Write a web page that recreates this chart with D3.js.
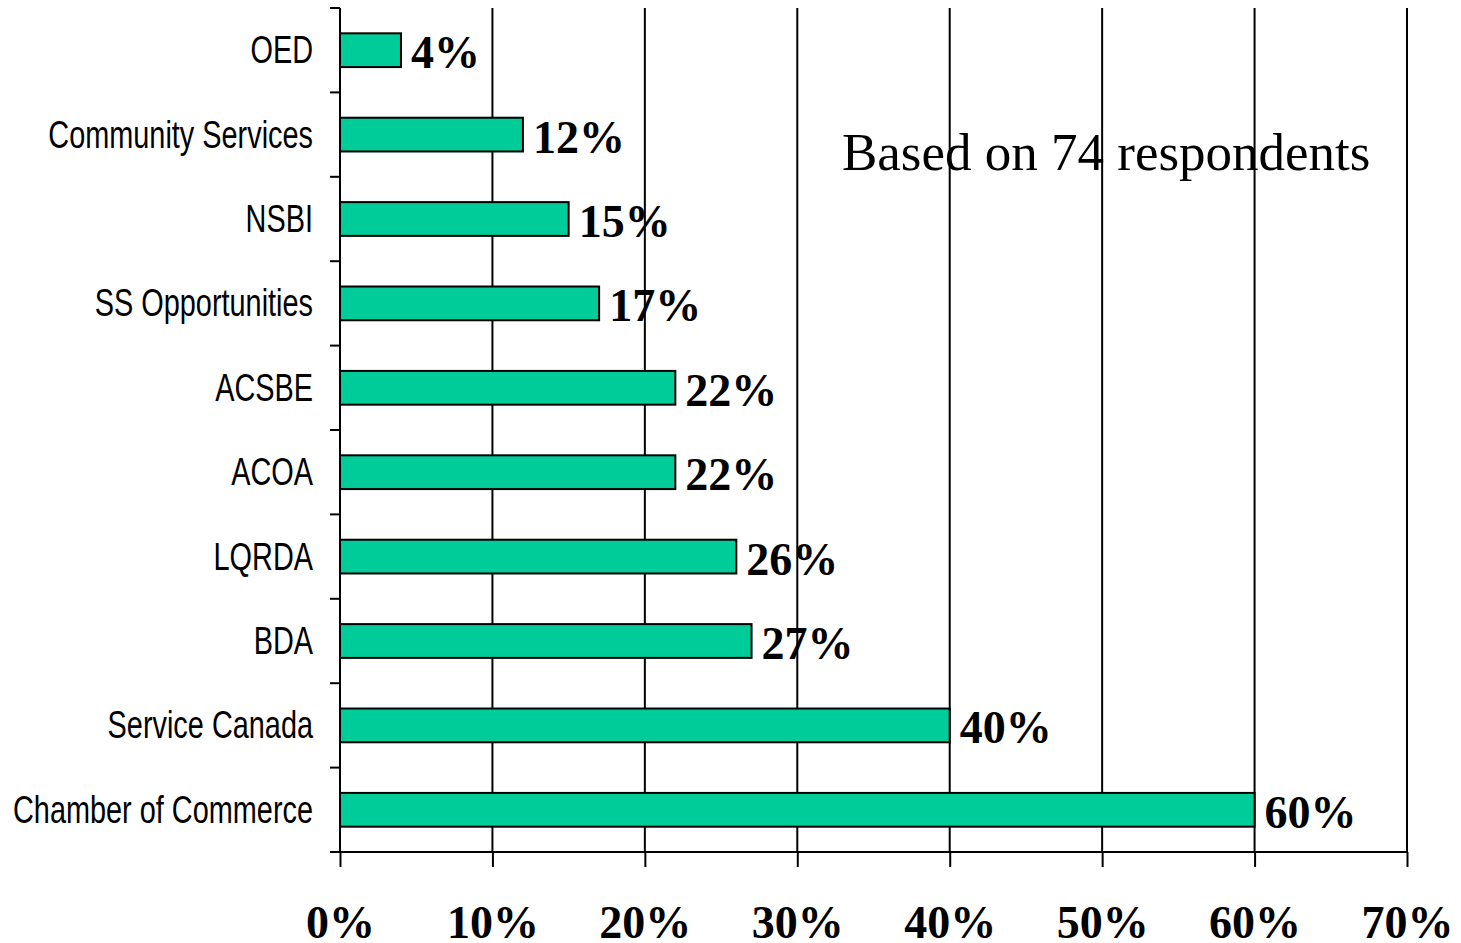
<!DOCTYPE html>
<html>
<head>
<meta charset="utf-8">
<script src="https://cdn.jsdelivr.net/npm/d3@7"></script>
<style>
  body { margin: 0; background: #fff; }
  svg { display: block; }
</style>
</head>
<body>
<div id="chart"></div>
<script>
// data, top to bottom
var categories = ["OED", "Community Services", "NSBI", "SS Opportunities", "ACSBE",
                  "ACOA", "LQRDA", "BDA", "Service Canada", "Chamber of Commerce"];
var values = [4, 12, 15, 17, 22, 22, 26, 27, 40, 60];
var tickValues = [0, 10, 20, 30, 40, 50, 60, 70];
var note = "Based on 74 respondents";

var W = 1461, H = 943;
var margin = {top: 8, right: 54, bottom: 91, left: 340};
var width = W - margin.left - margin.right,
    height = H - margin.top - margin.bottom;

var svg = d3.select("#chart").append("svg")
    .attr("width", W)
    .attr("height", H)
  .append("g")
    .attr("transform", "translate(" + margin.left + "," + margin.top + ")");

var x = d3.scaleLinear().domain([0, 70]).range([0, width]);
var y = d3.scaleBand().domain(categories).range([0, height]).paddingInner(0.6).paddingOuter(0.3);
var step = y.step();

// vertical gridlines
svg.append("g")
  .selectAll("line")
  .data(tickValues.slice(1))
  .enter().append("line")
    .attr("x1", function(d) { return x(d); })
    .attr("x2", function(d) { return x(d); })
    .attr("y1", 0)
    .attr("y2", height)
    .attr("stroke", "#000")
    .attr("stroke-width", 2);

// bars
svg.append("g")
  .selectAll("rect")
  .data(values)
  .enter().append("rect")
    .attr("x", 0)
    .attr("y", function(d, i) { return y(categories[i]); })
    .attr("width", function(d) { return x(d); })
    .attr("height", y.bandwidth())
    .attr("fill", "#00cc99")
    .attr("stroke", "#000")
    .attr("stroke-width", 2);

// value labels
svg.append("g")
  .selectAll("text")
  .data(values)
  .enter().append("text")
    .attr("x", function(d) { return x(d) + 10; })
    .attr("y", function(d, i) { return y(categories[i]) + y.bandwidth() / 2 + 18; })
    .attr("font-family", "'Liberation Serif', 'Times New Roman', serif")
    .attr("font-weight", "bold")
    .attr("font-size", "46px")
    .text(function(d) { return d + "%"; });

// y axis: line, ticks at category boundaries, labels (narrow sans)
var yAxis = svg.append("g");
yAxis.append("line")
    .attr("x1", 0).attr("x2", 0).attr("y1", 0).attr("y2", height)
    .attr("stroke", "#000").attr("stroke-width", 2);
yAxis.selectAll("line.tick")
  .data(d3.range(categories.length))
  .enter().append("line")
    .attr("class", "tick")
    .attr("x1", -10).attr("x2", 0)
    .attr("y1", function(i) { return i * step; })
    .attr("y2", function(i) { return i * step; })
    .attr("stroke", "#000").attr("stroke-width", 2);
yAxis.selectAll("text")
  .data(categories)
  .enter().append("text")
    .attr("transform", function(d) {
      return "translate(-27," + (y(d) + y.bandwidth() / 2 + 13) + ") scale(0.76,1)";
    })
    .attr("text-anchor", "end")
    .attr("font-family", "'Liberation Sans', Arial, sans-serif")
    .attr("font-size", "38px")
    .attr("fill", "#000")
    .text(function(d) { return d; });

// x axis
var xAxis = svg.append("g")
    .attr("transform", "translate(0," + height + ")")
    .call(d3.axisBottom(x).tickValues(tickValues).tickSize(15).tickSizeOuter(0)
      .tickFormat(function(d) { return d + "%"; }));
xAxis.select(".domain").remove();
xAxis.append("line")
    .attr("x1", -10).attr("x2", width).attr("y1", 0).attr("y2", 0)
    .attr("stroke", "#000").attr("stroke-width", 2);
xAxis.selectAll(".tick line").attr("stroke-width", 2);
xAxis.selectAll(".tick text")
    .attr("y", 86)
    .attr("dy", null)
    .attr("fill", "#000")
    .attr("font-family", "'Liberation Serif', 'Times New Roman', serif")
    .attr("font-weight", "bold")
    .attr("font-size", "46px");

// note
svg.append("text")
    .attr("x", 502)
    .attr("y", 162)
    .attr("font-family", "'Liberation Serif', 'Times New Roman', serif")
    .attr("font-size", "53px")
    .attr("fill", "#000")
    .text(note);
</script>
</body>
</html>
